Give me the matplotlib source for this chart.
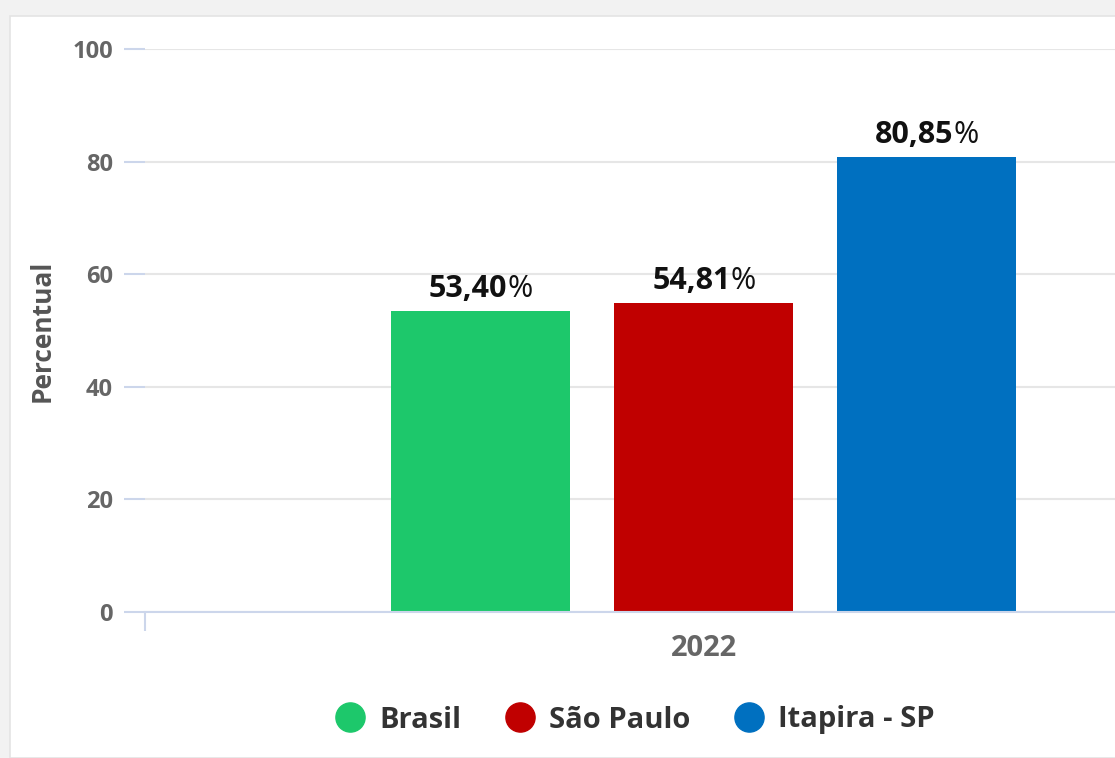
import matplotlib
matplotlib.use("Agg")
import matplotlib.pyplot as plt
from matplotlib.patches import Rectangle
from matplotlib.lines import Line2D

plt.rcParams['font.family'] = ['Open Sans', 'DejaVu Sans']

anos = ['2022']
series = ['Brasil', 'São Paulo', 'Itapira - SP']
valores = [53.40, 54.81, 80.85]
cores = ['#1dc86b', '#c00000', '#0070c0']
yticks = [0, 20, 40, 60, 80, 100]

fig = plt.figure(figsize=(11.15, 7.58), dpi=100)
fig.patch.set_facecolor('#f2f2f2')
# white card behind everything
fig.patches.append(Rectangle((10 / 1115, 0), 1, 1 - 16 / 758, transform=fig.transFigure,
                             facecolor='white', edgecolor='#e4e4e4', lw=1.2, zorder=-1))

ax = fig.add_axes([145 / 1115, 146 / 758, 1 - 145 / 1115, (612 - 49) / 758])
ax.set_facecolor('none')
ax.set_zorder(1)

largura = 0.16
desloc = [-0.1995, 0, 0.1995]
for i, (s, v, c) in enumerate(zip(series, valores, cores)):
    x = desloc[i]
    ax.bar(x, v, width=largura, color=c, zorder=3)
    txt = ax.annotate(f'{v:.2f}'.replace('.', ','), xy=(x, v), xytext=(-9, 5),
                      textcoords='offset points', ha='center', va='bottom',
                      fontsize=22, fontweight='bold', color='#111111', zorder=4)
    ax.annotate('%', xy=(1, 0), xycoords=txt, ha='left', va='bottom',
                fontsize=22, color='#111111', zorder=4)

ax.set_xticks([0])
ax.set_xticklabels(anos)
ax.set_xticks([-0.5], minor=True)
ax.set_xlim(-0.5, 0.368)
ax.set_ylim(0, 100)
ax.set_yticks(yticks)

for sp in ['top', 'right', 'left']:
    ax.spines[sp].set_visible(False)
ax.spines['bottom'].set_color('#ccd6eb')
ax.spines['bottom'].set_linewidth(1.5)
ax.spines['bottom'].set_zorder(5)

ax.yaxis.grid(True, color='#e6e6e6', lw=1.5, zorder=0)
ax.tick_params(axis='y', length=15, width=1.5, color='#ccd6eb', pad=8,
               labelsize=17, labelcolor='#666666')
ax.tick_params(axis='x', which='major', length=0, pad=16, labelsize=21, labelcolor='#666666')
ax.tick_params(axis='x', which='minor', length=14, width=1.5, color='#ccd6eb')
for lb in ax.get_yticklabels() + ax.get_xticklabels():
    lb.set_fontweight('bold')

fig.text(42 / 1115, 1 - 331 / 758, 'Percentual', rotation=90, ha='center', va='center',
         fontsize=19, fontweight='bold', color='#555555')

handles = [Line2D([], [], marker='o', ls='none', markersize=21, color=c) for c in cores]
leg = fig.legend(handles, series, loc='center', bbox_to_anchor=(635 / 1115, 1 - 720 / 758),
                 ncol=3, frameon=False, handlelength=1.0, handletextpad=0.5, columnspacing=1.5,
                 prop={'size': 21, 'weight': 'bold'})
for t in leg.get_texts():
    t.set_color('#333333')

fig.savefig('out.png', dpi=100, facecolor=fig.get_facecolor())
